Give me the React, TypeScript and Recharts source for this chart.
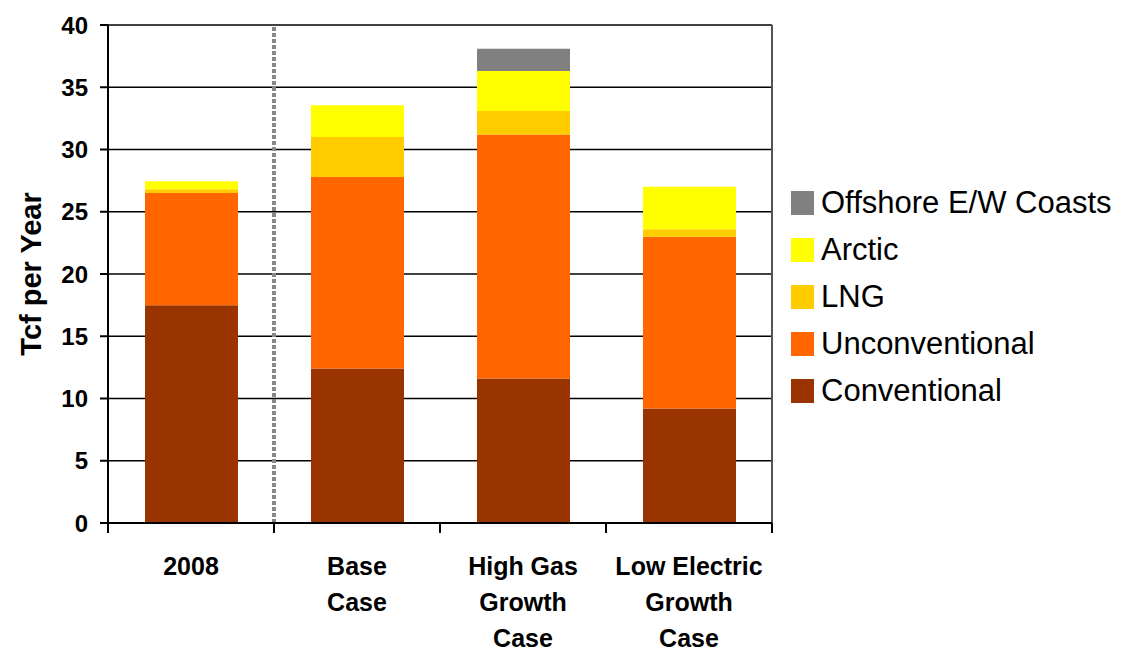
import React from "react";
import { BarChart, Bar, XAxis, YAxis, CartesianGrid, ReferenceLine } from "recharts";

// Natural gas supply by source, Tcf per year
const scenarios = ["2008", "Base Case", "High Gas Growth Case", "Low Electric Growth Case"];
const scenarioLines = [["2008"], ["Base", "Case"], ["High Gas", "Growth", "Case"], ["Low Electric", "Growth", "Case"]];
const conventional = [17.5, 12.4, 11.6, 9.2];
const unconventional = [9.0, 15.4, 19.6, 13.8];
const lng = [0.3, 3.2, 1.9, 0.6];
const arctic = [0.65, 2.55, 3.2, 3.4];
const offshore = [0, 0, 1.8, 0];
const yTicks = [0, 5, 10, 15, 20, 25, 30, 35, 40];

const series = [
  { key: "conventional", name: "Conventional", color: "#993300" },
  { key: "unconventional", name: "Unconventional", color: "#FF6600" },
  { key: "lng", name: "LNG", color: "#FFCC00" },
  { key: "arctic", name: "Arctic", color: "#FFFF00" },
  { key: "offshore", name: "Offshore E/W Coasts", color: "#808080" },
];

// each scenario sits in the middle of a unit-wide slot on a numeric axis
const data = scenarios.map((s, i) => ({
  pos: i + 0.5,
  scenario: s,
  conventional: conventional[i],
  unconventional: unconventional[i],
  lng: lng[i],
  arctic: arctic[i],
  offshore: offshore[i],
}));

const xTicks = [0, 0.5, 1, 1.5, 2, 2.5, 3, 3.5, 4];

const font = "'Liberation Sans', Arial, sans-serif";

function XTick(props: any) {
  const { x, y, payload } = props;
  const v = payload.value;
  if (Number.isInteger(v)) {
    return <line x1={x} x2={x} y1={y} y2={y + 10} stroke="#000" strokeWidth={2} />;
  }
  const lines = scenarioLines[Math.floor(v)];
  return (
    <text x={x} y={y} textAnchor="middle" fontFamily={font} fontWeight="bold" fontSize={25} fill="#000">
      {lines.map((l, i) => (
        <tspan key={i} x={x} y={y + 52 + i * 36}>
          {l}
        </tspan>
      ))}
    </text>
  );
}

function LegendBox() {
  const items = [...series].reverse();
  return (
    <div style={{ position: "absolute", left: 791, top: 179, fontFamily: font, fontSize: 31, color: "#000" }}>
      {items.map((s) => (
        <div key={s.key} style={{ display: "flex", alignItems: "center", height: 47, whiteSpace: "nowrap" }}>
          <span style={{ display: "inline-block", width: 23, height: 24, background: s.color, marginRight: 7 }} />
          <span>{s.name}</span>
        </div>
      ))}
    </div>
  );
}

export default function App() {
  return (
    <div style={{ position: "absolute", left: 0, top: 0, width: 1121, height: 651, background: "#fff" }}>
      <BarChart width={1121} height={651} data={data} margin={{ top: 25, right: 349, left: 0, bottom: 0 }}>
        <CartesianGrid vertical={false} stroke="#000" strokeWidth={1.5} />
        <XAxis
          type="number"
          dataKey="pos"
          domain={[0, 4]}
          ticks={xTicks}
          interval={0}
          height={128}
          tickSize={0}
          tickMargin={0}
          tickLine={false}
          tick={<XTick />}
          axisLine={{ stroke: "#000", strokeWidth: 2 }}
        />
        <YAxis
          domain={[0, 40]}
          ticks={yTicks}
          width={108}
          tickSize={8}
          tickMargin={12}
          axisLine={{ stroke: "#000", strokeWidth: 2 }}
          tickLine={{ stroke: "#000", strokeWidth: 2 }}
          tick={{ fontFamily: font, fontWeight: "bold", fontSize: 24, fill: "#000" }}
          label={{
            content: (p: any) => {
              const vb = p.viewBox;
              const cx = 31;
              const cy = vb.y + vb.height / 2;
              return (
                <text
                  x={cx}
                  y={cy}
                  transform={`rotate(-90 ${cx} ${cy})`}
                  textAnchor="middle"
                  dominantBaseline="central"
                  fontFamily={font}
                  fontWeight="bold"
                  fontSize={29}
                  fill="#000"
                >
                  Tcf per Year
                </text>
              );
            },
          }}
        />
        <ReferenceLine x={1} stroke="#888" strokeWidth={4} strokeDasharray="4 2" />
        <ReferenceLine x={4} stroke="#555" strokeWidth={2} />
        {series.map((s) => (
          <Bar key={s.key} dataKey={s.key} name={s.name} stackId="supply" fill={s.color} barSize={93} isAnimationActive={false} />
        ))}
      </BarChart>
      <LegendBox />
    </div>
  );
}
